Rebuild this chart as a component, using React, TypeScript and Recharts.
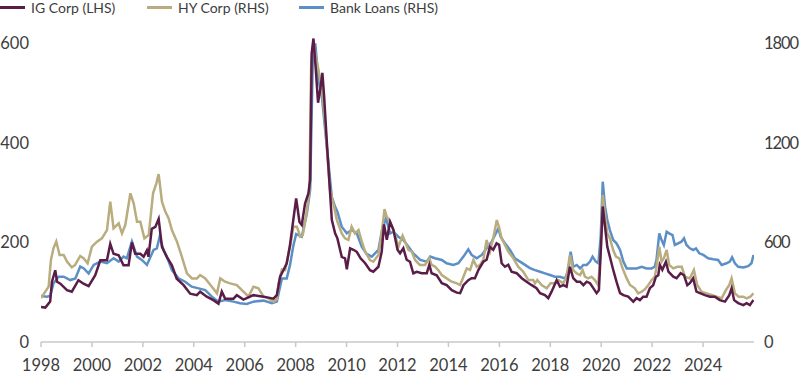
import { LineChart, Line, XAxis, YAxis } from "recharts";

// spreads in bps; IG on the left axis, HY and bank loans on the right axis
const xTicks = [1998, 2000, 2002, 2004, 2006, 2008, 2010, 2012, 2014, 2016, 2018, 2020, 2022, 2024];
const lhsTicks = [0, 200, 400, 600];
const rhsTicks = [0, 600, 1200, 1800];

const igYears = [
  1998.0, 1998.17, 1998.36, 1998.43, 1998.56, 1998.63, 1998.76, 1999.02, 1999.21, 1999.47, 1999.67, 1999.87,
  2000.13, 2000.33, 2000.59, 2000.72, 2000.85, 2001.05, 2001.24, 2001.44, 2001.57, 2001.7, 2001.9, 2002.03,
  2002.16, 2002.22, 2002.35, 2002.49, 2002.62, 2002.75, 2002.94, 2003.14, 2003.33, 2003.6, 2003.86, 2004.12,
  2004.25, 2004.51, 2004.77, 2004.97, 2005.1, 2005.23, 2005.56, 2005.69, 2005.95, 2006.34, 2006.74, 2007.13,
  2007.26, 2007.39, 2007.52, 2007.65, 2007.78, 2007.89, 2008.02, 2008.15, 2008.24, 2008.37, 2008.5, 2008.57,
  2008.63, 2008.7, 2008.78, 2008.88, 2008.96, 2009.05, 2009.12, 2009.22, 2009.32, 2009.42, 2009.55, 2009.64,
  2009.81, 2009.94, 2010.01, 2010.14, 2010.27, 2010.4, 2010.55, 2010.73, 2010.92, 2011.05, 2011.25, 2011.38,
  2011.47, 2011.58, 2011.71, 2011.84, 2012.0, 2012.1, 2012.23, 2012.36, 2012.49, 2012.62, 2012.76, 2012.95,
  2013.15, 2013.25, 2013.34, 2013.54, 2013.74, 2013.93, 2014.13, 2014.33, 2014.46, 2014.59, 2014.78, 2014.91,
  2015.04, 2015.18, 2015.37, 2015.5, 2015.63, 2015.76, 2015.89, 2015.99, 2016.09, 2016.22, 2016.35, 2016.48,
  2016.68, 2016.88, 2017.07, 2017.27, 2017.46, 2017.6, 2017.79, 2017.92, 2018.05, 2018.25, 2018.38, 2018.51,
  2018.64, 2018.77, 2018.9, 2019.04, 2019.17, 2019.3, 2019.43, 2019.56, 2019.69, 2019.82, 2019.91, 2019.99,
  2020.06, 2020.15, 2020.24, 2020.34, 2020.47, 2020.6, 2020.74, 2020.87, 2021.06, 2021.26, 2021.39, 2021.52,
  2021.65, 2021.78, 2021.91, 2022.04, 2022.15, 2022.24, 2022.3, 2022.4, 2022.54, 2022.64, 2022.83, 2022.96,
  2023.12, 2023.25, 2023.38, 2023.48, 2023.61, 2023.74, 2023.88, 2024.07, 2024.27, 2024.46, 2024.66, 2024.86,
  2025.03, 2025.12, 2025.22, 2025.38, 2025.58, 2025.71, 2025.84, 2025.93, 2025.98,
];
const igValues = [
  70, 69, 81, 121, 144, 121, 117, 104, 101, 124, 117, 112,
  134, 164, 164, 197, 177, 174, 154, 154, 200, 177, 177, 171,
  184, 171, 227, 231, 247, 191, 171, 154, 127, 114, 97, 94,
  101, 91, 84, 77, 101, 87, 87, 94, 85, 94, 91, 87,
  94, 131, 144, 158, 195, 238, 288, 241, 235, 278, 298, 325,
  579, 609, 555, 480, 505, 540, 492, 405, 325, 245, 218, 208,
  171, 168, 146, 188, 185, 181, 168, 158, 144, 141, 151, 181,
  236, 205, 241, 225, 185, 178, 188, 165, 161, 138, 141, 138,
  138, 155, 138, 134, 118, 114, 104, 99, 98, 114, 124, 128,
  128, 145, 161, 165, 191, 185, 198, 195, 158, 151, 155, 141,
  138, 128, 121, 114, 108, 98, 94, 88, 101, 124, 111, 114,
  111, 151, 128, 121, 121, 114, 121, 118, 108, 98, 104, 191,
  272, 231, 191, 171, 145, 121, 98, 94, 91, 81, 88, 84,
  91, 91, 108, 114, 131, 134, 155, 145, 161, 141, 131, 128,
  138, 134, 114, 118, 128, 101, 98, 94, 91, 91, 84, 81,
  94, 108, 84, 78, 74, 78, 74, 81, 84,
];

const hyYears = [
  1998.0, 1998.17, 1998.3, 1998.39, 1998.49, 1998.6, 1998.73, 1998.89, 1999.02, 1999.21, 1999.34, 1999.54,
  1999.67, 1999.83, 2000.0, 2000.2, 2000.39, 2000.59, 2000.72, 2000.85, 2001.05, 2001.18, 2001.31, 2001.51,
  2001.64, 2001.77, 2001.9, 2002.06, 2002.23, 2002.4, 2002.53, 2002.62, 2002.75, 2002.88, 2003.01, 2003.14,
  2003.34, 2003.53, 2003.73, 2003.93, 2004.12, 2004.25, 2004.45, 2004.71, 2004.91, 2005.04, 2005.23, 2005.43,
  2005.69, 2005.95, 2006.15, 2006.34, 2006.54, 2006.74, 2006.93, 2007.13, 2007.26, 2007.33, 2007.46, 2007.59,
  2007.78, 2007.91, 2008.05, 2008.18, 2008.28, 2008.41, 2008.54, 2008.61, 2008.7, 2008.79, 2008.9, 2009.03,
  2009.16, 2009.25, 2009.35, 2009.48, 2009.62, 2009.81, 2009.94, 2010.07, 2010.2, 2010.33, 2010.47, 2010.6,
  2010.73, 2010.92, 2011.05, 2011.25, 2011.38, 2011.49, 2011.58, 2011.71, 2011.84, 2012.04, 2012.2, 2012.3,
  2012.43, 2012.56, 2012.69, 2012.88, 2013.08, 2013.25, 2013.34, 2013.47, 2013.6, 2013.74, 2013.93, 2014.13,
  2014.33, 2014.46, 2014.59, 2014.72, 2014.85, 2014.98, 2015.11, 2015.24, 2015.37, 2015.5, 2015.63, 2015.76,
  2015.9, 2015.99, 2016.09, 2016.22, 2016.35, 2016.55, 2016.74, 2016.94, 2017.14, 2017.33, 2017.4, 2017.49,
  2017.66, 2017.86, 2018.01, 2018.18, 2018.32, 2018.51, 2018.64, 2018.77, 2018.9, 2019.04, 2019.17, 2019.27,
  2019.36, 2019.49, 2019.62, 2019.75, 2019.88, 2019.98, 2020.06, 2020.15, 2020.24, 2020.34, 2020.47, 2020.58,
  2020.71, 2020.84, 2021.0, 2021.13, 2021.32, 2021.45, 2021.59, 2021.72, 2021.85, 2021.98, 2022.11, 2022.2,
  2022.28, 2022.37, 2022.46, 2022.57, 2022.67, 2022.83, 2022.99, 2023.16, 2023.29, 2023.48, 2023.64, 2023.77,
  2023.94, 2024.14, 2024.33, 2024.53, 2024.73, 2024.9, 2025.03, 2025.12, 2025.25, 2025.4, 2025.58, 2025.71,
  2025.86, 2025.98,
];
const hyValues = [
  265, 303, 333, 494, 564, 605, 524, 524, 484, 450, 464, 518,
  504, 474, 574, 604, 624, 674, 845, 684, 714, 654, 704, 895,
  835, 724, 724, 624, 644, 895, 955, 1011, 845, 785, 745, 674,
  604, 514, 413, 383, 383, 403, 383, 333, 293, 383, 363, 353,
  343, 303, 273, 333, 323, 273, 263, 243, 257, 353, 437, 433,
  573, 694, 694, 634, 644, 754, 915, 1677, 1810, 1717, 1637, 1527,
  1316, 1115, 915, 835, 734, 654, 624, 614, 694, 654, 674, 604,
  544, 493, 483, 524, 654, 800, 754, 724, 674, 574, 640, 604,
  554, 544, 494, 464, 464, 504, 464, 454, 433, 403, 383, 363,
  353, 343, 393, 443, 433, 494, 453, 464, 494, 614, 544, 624,
  734, 690, 624, 584, 544, 504, 453, 423, 373, 373, 353, 373,
  343, 323, 353, 353, 373, 353, 393, 524, 433, 413, 403, 433,
  393, 383, 393, 373, 343, 534, 885, 765, 654, 624, 554, 514,
  504, 443, 383, 343, 323, 293, 303, 318, 343, 373, 393, 484,
  574, 484, 504, 554, 464, 443, 453, 453, 393, 383, 433, 343,
  303, 293, 283, 273, 263, 313, 343, 383, 293, 273, 273, 263,
  273, 293,
];

const blYears = [
  1998.0, 1998.23, 1998.36, 1998.49, 1998.69, 1998.89, 1999.15, 1999.35, 1999.54, 1999.67, 1999.87, 2000.07,
  2000.33, 2000.59, 2000.85, 2001.05, 2001.24, 2001.37, 2001.57, 2001.77, 2001.96, 2002.16, 2002.42, 2002.55,
  2002.66, 2002.81, 2002.94, 2003.14, 2003.4, 2003.66, 2003.92, 2004.19, 2004.45, 2004.71, 2004.97, 2005.23,
  2005.56, 2005.82, 2006.08, 2006.34, 2006.74, 2007.07, 2007.26, 2007.46, 2007.65, 2007.78, 2007.91, 2008.02,
  2008.11, 2008.24, 2008.44, 2008.57, 2008.67, 2008.77, 2008.9, 2009.03, 2009.16, 2009.29, 2009.42, 2009.55,
  2009.64, 2009.81, 2010.01, 2010.2, 2010.4, 2010.6, 2010.79, 2010.99, 2011.25, 2011.4, 2011.55, 2011.71,
  2011.84, 2012.03, 2012.23, 2012.43, 2012.62, 2012.89, 2013.15, 2013.28, 2013.47, 2013.74, 2013.93, 2014.19,
  2014.39, 2014.59, 2014.78, 2014.91, 2015.11, 2015.31, 2015.5, 2015.7, 2015.83, 2015.96, 2016.05, 2016.22,
  2016.42, 2016.61, 2016.81, 2017.01, 2017.2, 2017.4, 2017.6, 2017.79, 2017.99, 2018.18, 2018.38, 2018.58,
  2018.71, 2018.8, 2018.9, 2019.04, 2019.17, 2019.3, 2019.43, 2019.56, 2019.66, 2019.79, 2019.89, 2019.98,
  2020.06, 2020.15, 2020.24, 2020.34, 2020.47, 2020.6, 2020.74, 2020.87, 2021.0, 2021.19, 2021.39, 2021.59,
  2021.78, 2021.98, 2022.1, 2022.17, 2022.28, 2022.37, 2022.46, 2022.57, 2022.67, 2022.8, 2022.89, 2023.02,
  2023.15, 2023.25, 2023.35, 2023.48, 2023.61, 2023.72, 2023.85, 2024.01, 2024.2, 2024.4, 2024.59, 2024.73,
  2024.92, 2025.05, 2025.14, 2025.25, 2025.38, 2025.58, 2025.77, 2025.9, 2025.98,
];
const blValues = [
  277, 273, 277, 353, 393, 393, 373, 383, 454, 444, 413, 464,
  484, 474, 504, 484, 514, 504, 604, 514, 494, 464, 554, 564,
  634, 554, 514, 433, 383, 363, 333, 323, 313, 273, 243, 253,
  243, 233, 229, 243, 249, 233, 243, 383, 383, 464, 580, 650,
  644, 634, 774, 915, 1677, 1798, 1577, 1477, 1276, 1075, 874, 814,
  784, 694, 654, 674, 654, 573, 530, 514, 554, 680, 745, 654,
  664, 634, 614, 574, 534, 494, 484, 514, 504, 494, 474, 464,
  474, 514, 558, 524, 504, 524, 564, 604, 644, 684, 634, 594,
  554, 504, 484, 464, 445, 433, 423, 413, 403, 393, 393, 383,
  433, 544, 453, 464, 443, 464, 464, 484, 514, 484, 474, 634,
  965, 815, 734, 674, 614, 594, 554, 484, 443, 443, 443, 453,
  443, 443, 453, 494, 654, 614, 584, 664, 654, 644, 584, 594,
  604, 624, 584, 564, 554, 564, 534, 524, 504, 498, 494, 464,
  474, 484, 510, 474, 453, 449, 457, 474, 524,
];

const series = [
  { name: "Bank Loans (RHS)", years: blYears, values: blValues, color: "#5b8fc5", axis: "rhs" },
  { name: "HY Corp (RHS)", years: hyYears, values: hyValues, color: "#b9ac7f", axis: "rhs" },
  { name: "IG Corp (LHS)", years: igYears, values: igValues, color: "#5a1d48", axis: "lhs" },
];
const legendOrder = ["IG Corp (LHS)", "HY Corp (RHS)", "Bank Loans (RHS)"];

const toPoints = (years: number[], values: number[]) => years.map((x, i) => ({ x, v: values[i] }));

const font = "Lato, 'Open Sans', sans-serif";
const textColor = "#3d3d3d";

function Legend() {
  const lefts = [0, 147, 299];
  return (
    <>
      {legendOrder.map((name, i) => {
        const s = series.find((d) => d.name === name)!;
        return (
          <div
            key={name}
            style={{ position: "absolute", left: lefts[i], top: -1, height: 16, display: "flex", alignItems: "center" }}
          >
            <span style={{ display: "inline-block", width: 25, height: 3, background: s.color, marginRight: 6 }} />
            <span style={{ fontFamily: font, fontSize: 14, color: textColor, whiteSpace: "nowrap" }}>{name}</span>
          </div>
        );
      })}
    </>
  );
}

export default function App() {
  const tickStyle = { fill: textColor, fontSize: 16.5, fontFamily: font };
  return (
    <div style={{ position: "absolute", left: 0, top: 0, width: 800, height: 375, background: "#fff" }}>
      <Legend />
      <LineChart width={800} height={375} margin={{ top: 38, right: 0, bottom: 0, left: 0 }}>
        <XAxis
          type="number"
          dataKey="x"
          domain={[1998, 2026]}
          ticks={xTicks}
          allowDataOverflow
          height={33}
          stroke="#c8c8c8"
          strokeWidth={1.5}
          tickSize={5}
          tickMargin={12}
          tick={tickStyle}
        />
        <YAxis
          yAxisId="lhs"
          domain={[0, 610]}
          ticks={lhsTicks}
          allowDataOverflow
          width={41}
          axisLine={false}
          tickLine={false}
          tickSize={0}
          tickMargin={12}
          tick={tickStyle}
        />
        <YAxis
          yAxisId="rhs"
          orientation="right"
          domain={[0, 1830]}
          ticks={rhsTicks}
          allowDataOverflow
          width={46}
          axisLine={false}
          tickLine={false}
          tickSize={0}
          tickMargin={10}
          tick={{ ...tickStyle, textAnchor: "start", letterSpacing: -1.1 }}
        />
        {series.map((s) => (
          <Line
            key={s.name}
            yAxisId={s.axis}
            data={toPoints(s.years, s.values)}
            dataKey="v"
            type="linear"
            stroke={s.color}
            strokeWidth={2.5}
            dot={false}
            isAnimationActive={false}
          />
        ))}
      </LineChart>
    </div>
  );
}
